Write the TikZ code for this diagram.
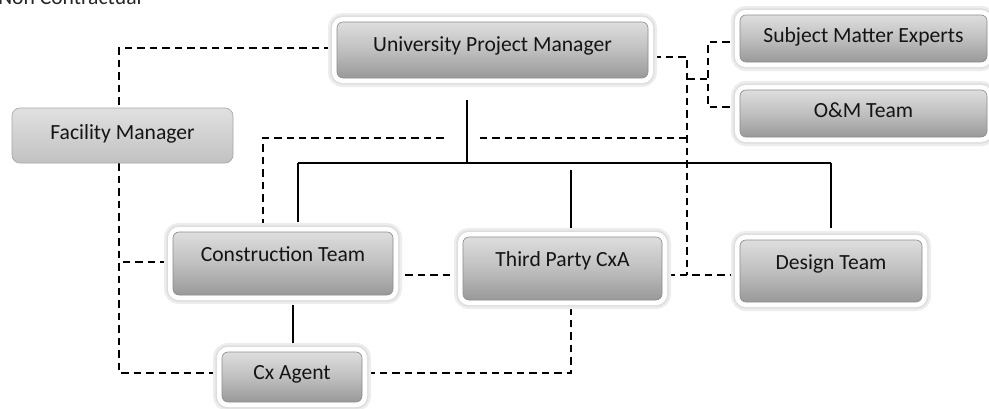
\documentclass[tikz,border=0pt]{standalone}
\usepackage{fontspec}
\setmainfont{Carlito}
\usetikzlibrary{calc,backgrounds}
\newdimen\pxu
\pxu=0.75pt
\newcommand\boxfont{\fontsize{16.2}{19}\selectfont}
\tikzset{
  gbox/.style={rounded corners=6\pxu, draw=black!45, line width=0.5pt,
    top color=black!13, bottom color=black!40, middle color=black!25,
    preaction={draw=black!7, line width=13.5pt},
    preaction={draw=black!13, line width=10pt},
    preaction={draw=white, line width=7.5pt},
    font=\boxfont, text=black!92, inner sep=0pt, text height=10.4pt},
  fbox/.style={rounded corners=8\pxu, draw=black!35, line width=0.5pt,
    top color=black!12, bottom color=black!24,
    font=\boxfont, text=black!92, inner sep=0pt, text height=10.4pt},
  sline/.style={line width=1.9pt, black},
  dline/.style={line width=1.5pt, black, dash pattern=on 5.6pt off 3.75pt},
}
\begin{document}
\begin{tikzpicture}[x=0.75pt, y=-0.75pt]
\useasboundingbox (0,0) rectangle (989,408);

% legend text along the top edge
\node[anchor=base west, font=\boxfont, text=black!85, inner sep=0pt] (nc) at (-2,4) {Non Contractual};

% boxes
\node[gbox, minimum width=311\pxu, minimum height=56\pxu, text depth=8.25pt] (upm) at (492.5,50) {University Project Manager};
\node[gbox, minimum width=247\pxu, minimum height=47\pxu, text depth=4.5pt] (sme) at (863.5,38.5) {Subject Matter Experts};
\node[gbox, minimum width=247\pxu, minimum height=47\pxu, text depth=4.5pt] (om) at (863.5,113.5) {O\&M Team};
\node[fbox, minimum width=221\pxu, minimum height=55\pxu, text depth=4.5pt] (fm) at (122.5,135.5) {Facility Manager};
\node[gbox, minimum width=220\pxu, minimum height=63\pxu, text depth=12.75pt] (ct) at (283,263.5) {Construction Team};
\node[gbox, minimum width=140\pxu, minimum height=50\pxu, text depth=6pt] (cx) at (292,377) {Cx Agent};
\node[gbox, minimum width=199\pxu, minimum height=63\pxu, text depth=12.75pt] (tp) at (562.5,268.5) {Third Party CxA};
\node[gbox, minimum width=182\pxu, minimum height=62\pxu, text depth=12.75pt] (dt) at (831,271) {Design Team};

% junction points
\coordinate (stem) at (467,100);
\coordinate (busL) at (298,163);
\coordinate (busR) at (831,163);
\coordinate (gapL) at (445,138);
\coordinate (gapR) at (480,138);
\coordinate (brk) at (708,79);
\coordinate (riser) at ($(tp.east)+(25,6.5)$);

\begin{scope}[on background layer]
  % contractual lines
  \draw[sline] (stem) -- (stem |- busL);
  \draw[sline] (busL) -- (busR);
  \draw[sline] (busL) -- ($(busL |- ct.north)+(0,-10)$);
  \draw[sline] ($(tp.north)+(8.5,-67)$) -- ($(tp.north)+(8.5,-7)$);
  \draw[sline] (busR) -- ($(busR |- dt.north)+(0,-12)$);
  \draw[sline] ($(ct.south)+(10,10)$) -- ($(cx.north)+(1,-9)$);

  % non contractual lines
  \draw[dline] ($(upm.west)+(-5,-2)$) -| ($(fm.north)+(-3.5,0)$);
  \draw[dline] ($(fm.south)+(-3.5,0)$) |- ($(cx.west)+(-5,-4)$);
  \draw[dline] ($(ct.west)+(-5,-1.5)$) -- ++(-49,0);
  \draw[dline] ($(ct.north)+(-20,-5)$) |- (gapL);
  \draw[dline] (gapR) -- (gapR -| riser);
  \draw[dline] ($(upm.east)+(5,7)$) -| (riser);
  \draw[dline] (riser |- brk) -- (brk);
  \draw[dline] ($(sme.west)+(-10,3.5)$) -| (brk);
  \draw[dline] ($(om.west)+(-10,-6.5)$) -| (brk);
  \draw[dline] ($(tp.east)+(5,6.5)$) -- ($(dt.west)+(-5,4)$);
  \draw[dline] ($(ct.east)+(12,11.5)$) -- ($(tp.west)+(-5,6.5)$);
  \draw[dline] ($(cx.east)+(5,-4)$) -| ($(tp.south)+(8.5,7)$);
\end{scope}
\end{tikzpicture}
\end{document}
